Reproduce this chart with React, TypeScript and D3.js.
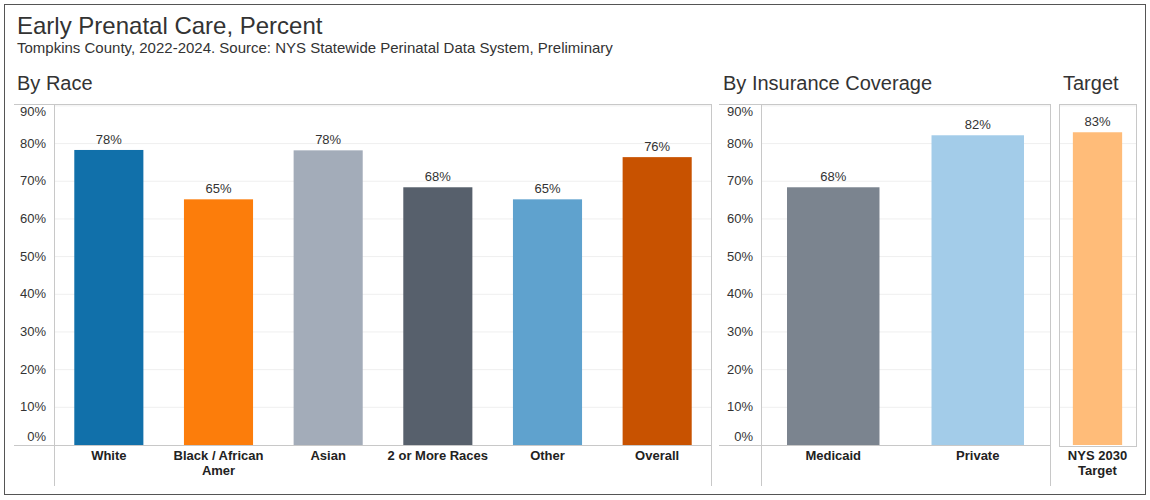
import React from 'react';
import * as d3 from 'd3';

const raceCategories = ['White', 'Black / African\nAmer', 'Asian', '2 or More Races', 'Other', 'Overall'];
const raceValues = [0.783, 0.652, 0.782, 0.684, 0.652, 0.764];
const raceColors = ['#1170aa', '#fc7d0b', '#a3acb9', '#57606c', '#5fa2ce', '#c85200'];

const insuranceCategories = ['Medicaid', 'Private'];
const insuranceValues = [0.684, 0.822];
const insuranceColors = ['#7b848f', '#a3cce9'];

const targetCategories = ['NYS 2030\nTarget'];
const targetValues = [0.83];
const targetColors = ['#ffbc79'];

const yTicks = [0, 0.1, 0.2, 0.3, 0.4, 0.5, 0.6, 0.7, 0.8, 0.9];

const W = 1150;
const H = 500;
const top = 104;
const zeroY = 445;
const bottom = 486;
const font = 'Arial, "Liberation Sans", sans-serif';

const y = d3.scaleLinear().domain([0, 0.905]).range([zeroY, top]);
const pct = d3.format('.0%');

interface PanelProps {
  cats: string[];
  vals: number[];
  colors: string[];
  x0: number;
  x1: number;
  padding: number;
}

const Bars: React.FC<PanelProps> = ({ cats, vals, colors, x0, x1, padding }) => {
  const x = d3.scaleBand().domain(cats).range([x0, x1]).paddingInner(padding).paddingOuter(padding / 2);
  return (
    <g>
      {cats.map((c, i) => {
        const bx = x(c)!;
        const cx = bx + x.bandwidth() / 2;
        const lines = c.split('\n');
        return (
          <g key={c}>
            <rect x={bx} y={y(vals[i])} width={x.bandwidth()} height={zeroY - y(vals[i])} fill={colors[i]} />
            <text x={cx} y={y(vals[i]) - 6} textAnchor="middle" fontSize={13} fill="#333">
              {pct(vals[i])}
            </text>
            {lines.map((l, j) => (
              <text key={j} x={cx} y={460 + j * 15} textAnchor="middle" fontSize={13} fontWeight="bold" fill="#222">
                {l}
              </text>
            ))}
          </g>
        );
      })}
    </g>
  );
};

const Grid: React.FC<{ x0: number; x1: number }> = ({ x0, x1 }) => (
  <g>
    {yTicks.slice(1).map((t) => (
      <line key={t} x1={x0} x2={x1} y1={y(t)} y2={y(t)} stroke="#efefef" strokeWidth={1} />
    ))}
  </g>
);

const YAxis: React.FC<{ x: number }> = ({ x }) => (
  <g>
    {yTicks.map((t) => {
      const ty = Math.min(Math.max(y(t) + 4, top + 12), zeroY - 4);
      return (
        <text key={t} x={x} y={ty} textAnchor="end" fontSize={13} fill="#333">
          {pct(t)}
        </text>
      );
    })}
  </g>
);

const App: React.FC = () => {
  const border = '#c8c8c8';
  return (
    <svg width={W} height={H} style={{ position: 'absolute', left: 0, top: 0 }} fontFamily={font}>
      <rect x={0} y={0} width={W} height={H} fill="#fff" />
      <rect x={4.5} y={4.5} width={1141} height={490} fill="none" stroke="#555" strokeWidth={1} />
      <text x={17} y={34} fontSize={24} fill="#333">Early Prenatal Care, Percent</text>
      <text x={17} y={53} fontSize={15} fill="#333">
        Tompkins County, 2022-2024. Source: NYS Statewide Perinatal Data System, Preliminary
      </text>

      <text x={17} y={90} fontSize={20} fill="#333">By Race</text>
      <text x={723} y={90} fontSize={20} fill="#333">By Insurance Coverage</text>
      <text x={1063} y={90} fontSize={20} fill="#333">Target</text>

      {/* race panel */}
      <Grid x0={54} x1={712} />
      <line x1={14} x2={712} y1={top + 0.5} y2={top + 0.5} stroke={border} />
      <line x1={54.5} x2={54.5} y1={top} y2={bottom} stroke={border} />
      <line x1={711.5} x2={711.5} y1={top} y2={bottom} stroke={border} />
      <YAxis x={46} />
      <Bars cats={raceCategories} vals={raceValues} colors={raceColors} x0={54} x1={712} padding={0.37} />
      <line x1={14} x2={712} y1={zeroY + 0.5} y2={zeroY + 0.5} stroke={border} />

      {/* insurance panel */}
      <Grid x0={761} x1={1050} />
      <line x1={719} x2={1050} y1={top + 0.5} y2={top + 0.5} stroke={border} />
      <line x1={761.5} x2={761.5} y1={top} y2={bottom} stroke={border} />
      <line x1={1050.5} x2={1050.5} y1={top} y2={bottom} stroke={border} />
      <YAxis x={753} />
      <Bars cats={insuranceCategories} vals={insuranceValues} colors={insuranceColors} x0={761} x1={1050} padding={0.36} />
      <line x1={719} x2={1050} y1={zeroY + 0.5} y2={zeroY + 0.5} stroke={border} />

      {/* target panel */}
      <Grid x0={1059} x1={1136} />
      <Bars cats={targetCategories} vals={targetValues} colors={targetColors} x0={1059} x1={1136} padding={0.36} />
      <rect x={1059.5} y={top + 0.5} width={77} height={zeroY - top + 1} fill="none" stroke={border} />
    </svg>
  );
};

export default App;
